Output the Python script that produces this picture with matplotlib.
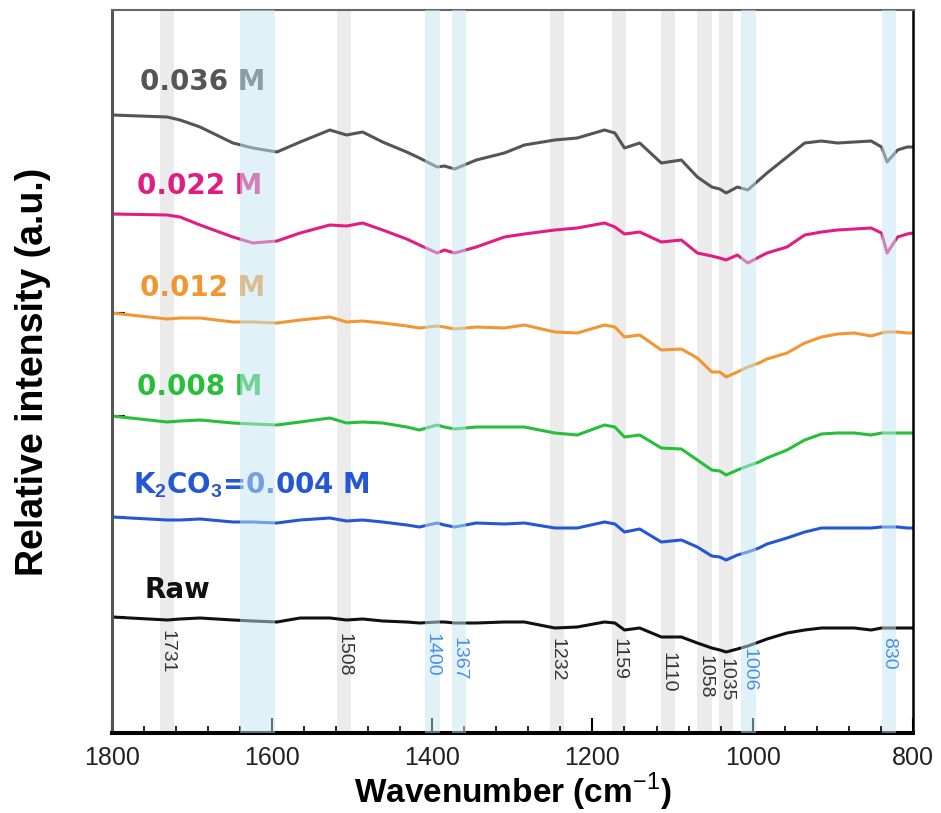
import matplotlib
matplotlib.use("Agg")
import matplotlib.pyplot as plt
from matplotlib.ticker import MultipleLocator

plt.rcParams["mathtext.fontset"] = "custom"
plt.rcParams["mathtext.rm"] = "Liberation Sans"
plt.rcParams["mathtext.bf"] = "Liberation Sans:bold"

# FTIR spectra (arbitrary units, offset per curve)
wavenumber = [1800, 1731, 1715, 1690, 1649, 1624, 1594, 1565, 1528, 1507, 1487, 1462,
              1432, 1416, 1394, 1385, 1372, 1345, 1310, 1285, 1247, 1219, 1185, 1172,
              1160, 1141, 1114, 1089, 1069, 1051, 1041, 1033, 1019, 1006, 992, 982,
              957, 935, 914, 894, 873, 852, 839, 832, 819, 807, 800]

raw = [116, 113, 114, 115, 113, 112, 111, 115, 115, 113, 114, 112, 111, 110, 111, 111,
       110, 110, 111, 111, 105, 106, 111, 110, 103, 105, 96, 96, 90, 85, 83, 81, 84, 87,
       91, 94, 100, 103, 105, 105, 105, 103, 105, 105, 105, 105, 105]
k004 = [216, 213, 213, 214, 211, 211, 210, 213, 215, 212, 213, 211, 208, 206, 210, 208,
        206, 210, 209, 210, 205, 205, 211, 209, 201, 204, 191, 193, 186, 177, 176, 173,
        178, 181, 185, 189, 195, 201, 205, 205, 205, 205, 206, 206, 206, 205, 205]
k008 = [317, 311, 312, 313, 310, 309, 308, 311, 315, 310, 311, 310, 306, 303, 308, 306,
        304, 306, 306, 306, 300, 298, 308, 306, 296, 298, 285, 284, 273, 263, 262, 258,
        263, 267, 271, 275, 283, 293, 299, 300, 300, 298, 300, 300, 300, 300, 300]
k012 = [420, 414, 415, 415, 411, 411, 410, 413, 416, 411, 412, 410, 407, 405, 407, 406,
        404, 406, 405, 408, 401, 400, 408, 406, 396, 398, 383, 384, 375, 361, 361, 356,
        361, 366, 370, 374, 380, 390, 396, 399, 400, 397, 400, 401, 401, 400, 400]
k022 = [519, 518, 516, 508, 496, 490, 492, 500, 508, 507, 510, 503, 494, 488, 480, 483,
        480, 486, 496, 499, 503, 505, 510, 506, 499, 501, 491, 493, 480, 477, 475, 473,
        478, 470, 476, 480, 486, 498, 501, 503, 504, 505, 500, 480, 496, 499, 500]
k036 = [618, 616, 613, 606, 590, 585, 581, 591, 603, 598, 601, 591, 581, 575, 566, 567,
        564, 573, 580, 588, 593, 595, 603, 600, 585, 590, 570, 573, 556, 546, 544, 540,
        546, 543, 553, 560, 576, 590, 592, 590, 591, 592, 586, 571, 583, 586, 586]

series = [raw, k004, k008, k012, k022, k036]
series_labels = ["Raw", r"K$_\mathbf{2}$CO$_\mathbf{3}$=0.004 M", "0.008 M", "0.012 M",
                 "0.022 M", "0.036 M"]
series_colors = ["#111111", "#2457d6", "#25bf3a", "#f29632", "#e31c82", "#555555"]
label_x = [1759, 1774, 1769, 1765, 1769, 1765]
label_y = [143, 248, 346, 445, 547, 651]

# assigned bands
grey_bands = [1731, 1510, 1244, 1167, 1106, 1060, 1033]
grey_band_labels = ["1731", "1508", "1232", "1159", "1110", "1058", "1035"]
grey_label_top = [103, 100, 95, 95, 81, 78, 75]
blue_bands = [1400, 1367, 1005, 830]
blue_band_labels = ["1400", "1367", "1006", "830"]
blue_label_top = [100, 96, 85, 96]
wide_blue_band = (1640, 1596)
band_width = 18

fig, ax = plt.subplots(figsize=(9.41, 8.13), dpi=100)
fig.subplots_adjust(left=0.119, right=0.970, bottom=0.0984, top=0.9877)

for c in grey_bands:
    ax.axvspan(c - band_width / 2, c + band_width / 2, color="#ebebeb", lw=0, zorder=0)
for c in blue_bands:
    ax.axvspan(c - band_width / 2, c + band_width / 2, color="#c4e5f3", alpha=0.5,
               lw=0, zorder=3)
ax.axvspan(*wide_blue_band, color="#c4e5f3", alpha=0.5, lw=0, zorder=3)

for y, lab, col, lx, ly in zip(series, series_labels, series_colors, label_x, label_y):
    ax.plot(wavenumber, y, color=col, lw=2.2, zorder=2, solid_joinstyle="round")
    ax.text(lx, ly, lab, color=col, fontsize=20, fontweight="bold", ha="left",
            va="center", zorder=2)

for c, lab, top in zip(grey_bands, grey_band_labels, grey_label_top):
    ax.text(c, top, lab, rotation=270, ha="center", va="top", fontsize=14,
            family="Liberation Sans", color="#333333", zorder=4)
for c, lab, top in zip(blue_bands, blue_band_labels, blue_label_top):
    ax.text(c, top, lab, rotation=270, ha="center", va="top", fontsize=14,
            family="Liberation Sans", color="#4a8fe0", zorder=4)

ax.set_xlim(1800, 800)
ax.set_ylim(0, 723)
ax.xaxis.set_major_locator(MultipleLocator(200))
ax.xaxis.set_minor_locator(MultipleLocator(40))
ax.tick_params(axis="x", which="major", direction="in", length=11, width=1.5,
               pad=9, labelsize=18, labelcolor="#222222")
ax.tick_params(axis="x", which="minor", direction="in", length=5, width=1.2)
for t in ax.get_xticklabels():
    t.set_family("Liberation Sans")

starts = sorted(zip([s[0] for s in series], series_colors))
ax.set_yticks([s for s, _ in starts])
ax.tick_params(axis="y", direction="in", length=9, width=1.5, labelleft=False)
for tick, (_, col) in zip(ax.yaxis.get_major_ticks(), starts):
    tick.tick1line.set_color(col)

ax.spines["left"].set_color("#555555")
ax.spines["left"].set_linewidth(2.2)
ax.spines["bottom"].set_linewidth(2.9)
ax.spines["right"].set_linewidth(1.8)
ax.spines["top"].set_color("#666666")
ax.spines["top"].set_linewidth(1.5)

ax.set_xlabel("Wavenumber (cm$^{\\mathrm{-1}}$)", fontsize=24, fontweight="bold",
              family="Liberation Sans", labelpad=1)
ax.set_ylabel("Relative intensity (a.u.)", fontsize=27, fontweight="bold",
              family="Liberation Sans")
ax.yaxis.set_label_coords(-0.076, 0.5)

fig.savefig("out.png", dpi=100)
